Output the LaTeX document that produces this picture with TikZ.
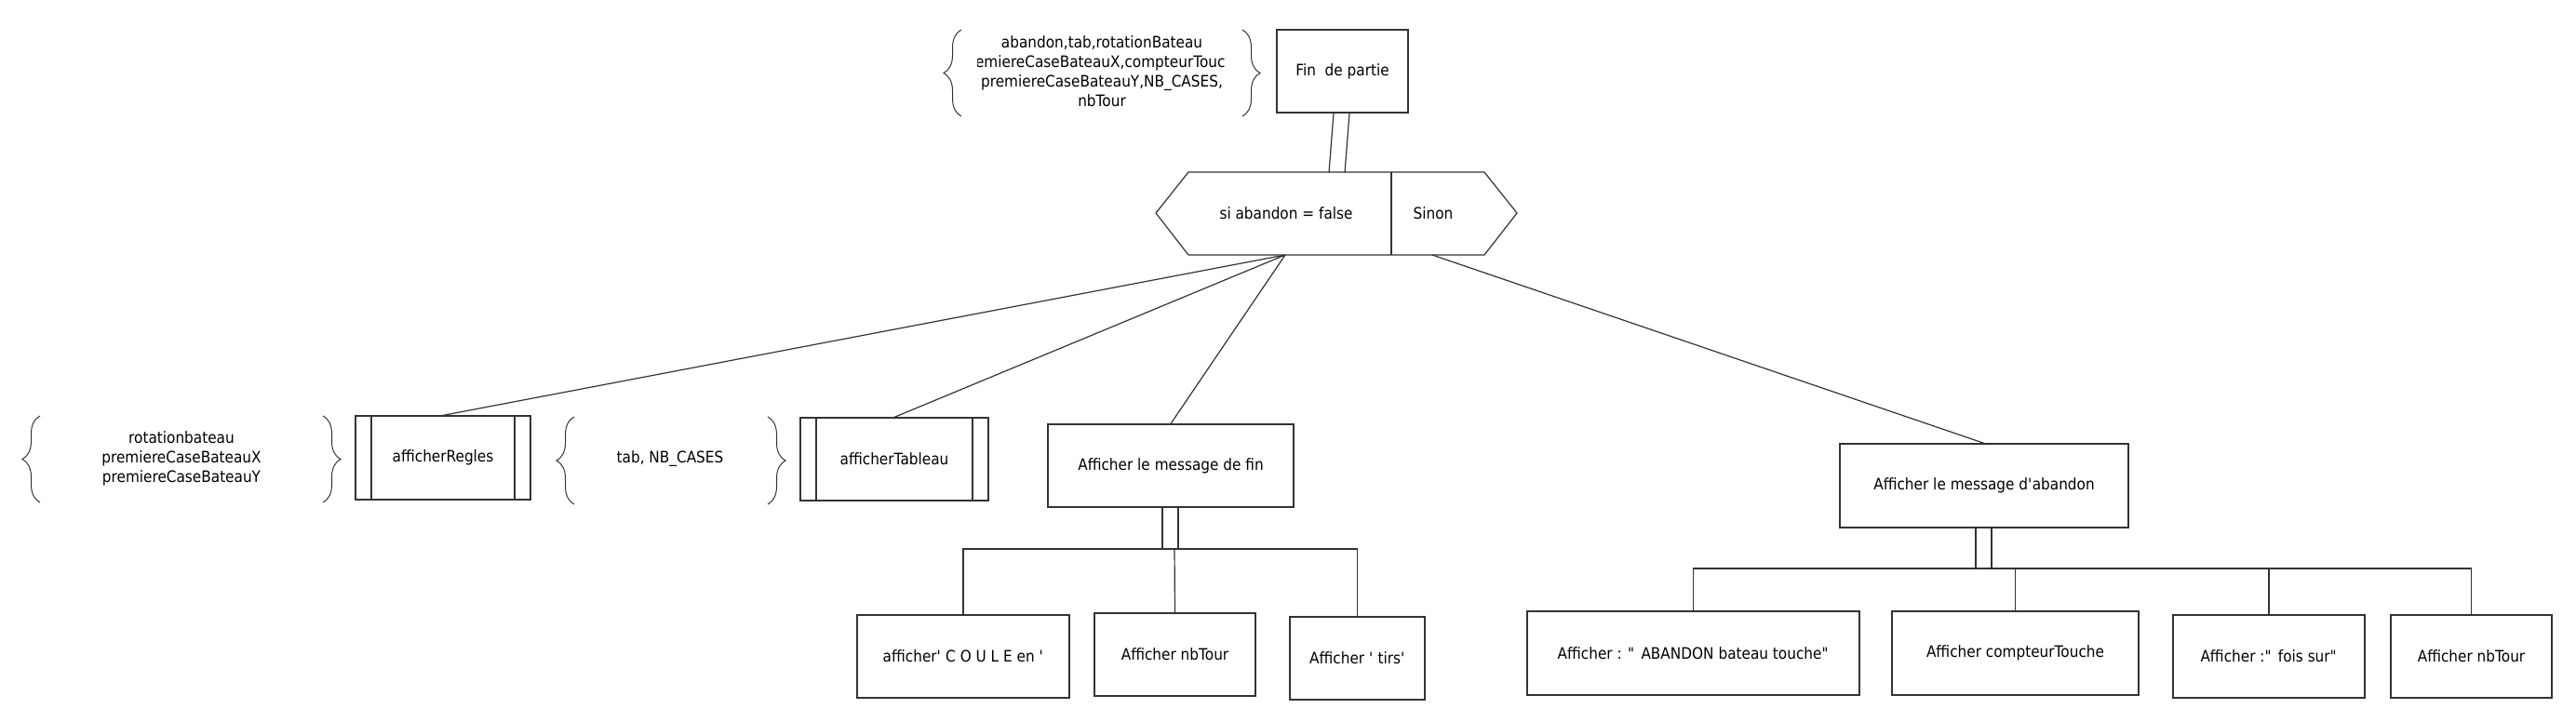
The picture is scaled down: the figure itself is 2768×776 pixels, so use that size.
\documentclass[tikz,border=0pt]{standalone}
\usepackage{fontspec}
\setmainfont{DejaVu Sans}[FakeStretch=0.9]
\usetikzlibrary{calc}
\usetikzlibrary{decorations.pathreplacing}

\begin{document}
\begin{tikzpicture}[x=1pt, y=-1pt, line width=1.2pt, color=black!80,
    every node/.style={text=black, font=\fontsize{17}{21}\selectfont},
    box/.style 2 args={draw, rectangle, inner sep=0pt, minimum width=#1, minimum height=#2},
    procbox/.style 2 args={box={#1}{#2},
      path picture={\draw ([xshift=17pt]path picture bounding box.north west) -- ([xshift=17pt]path picture bounding box.south west)
        ([xshift=-17pt]path picture bounding box.north east) -- ([xshift=-17pt]path picture bounding box.south east);}},
    brc/.style={decorate, decoration={brace, amplitude=19pt}, line width=1pt}]
      \useasboundingbox (0,0) rectangle (2768,776);
      % Fin de partie and its parameters
      \node (fin) [box={141pt}{89pt}] at (1442.5,76.5) {Fin\ \ de partie};
      \begin{scope}
        \clip (1050,28) rectangle (1316,130);
        \node (params) [align=center] at (1184,77) {abandon,tab,rotationBateau\\premiereCaseBateauX,compteurTouche\\premiereCaseBateauY,NB\_CASES,\\nbTour};
      \end{scope}
      \draw[brc] (1033,125) -- (1033,32);
      \draw[brc] (1335,32) -- (1335,125);
      % Condition
      \draw (1242,229) -- (1277,185) -- (1595,185) -- (1630,229) -- (1595,274) -- (1277,274) -- cycle;
      \draw (1495,185) -- (1495,274);
      \node (si) at (1382,229) {si abandon = false};
      \node (sinon) at (1540,229) {Sinon};
      \coordinate (alors) at (1381,274);
      \coordinate (sinonbas) at (1539,274);
      \draw ([xshift=-9.5pt]fin.south) -- ++(-5,64) ([xshift=7.5pt]fin.south) -- ++(-5,64);
      % Branch si
      \node (regles) [procbox={188pt}{90pt}] at (476,492) {afficherRegles};
      \node (tableau) [procbox={202pt}{89pt}] at (961,493.5) {afficherTableau};
      \node (msgfin) [box={264pt}{89pt}] at (1258,500.5) {Afficher le message de fin};
      \node (regparams) [align=center] at (195,493) {rotationbateau\\premiereCaseBateauX\\premiereCaseBateauY};
      \draw[brc] (43,540) -- (43,447);
      \draw[brc] (347,447) -- (347,540);
      \node (tabparams) at (720,493) {tab, NB\_CASES};
      \draw[brc] (617,542) -- (617,448);
      \draw[brc] (825,448) -- (825,542);
      \draw (alors) -- (regles.north) (alors) -- (tableau.north) (alors) -- (msgfin.north);
      % Message de fin
      \node (coule) [box={228pt}{89pt}] at (1035,705.5) {afficher\textquotesingle{} C O U L E en \textquotesingle};
      \node (nbtourfin) [box={173pt}{89pt}] at (1262.5,703.5) {Afficher nbTour};
      \node (tirs) [box={145pt}{89pt}] at (1458.5,707.5) {Afficher \textquotesingle{} tirs\textquotesingle};
      \coordinate (finbar) at (1262,590);
      \draw ([xshift=-9pt]msgfin.south) -- ++(0,45) -- ++(17,0) -- ++(0,-45);
      \draw (coule.north) |- (finbar) -| (tirs.north);
      \draw (finbar) -- (nbtourfin.north);
      % Branch sinon
      \node (msgab) [box={310pt}{90pt}] at (2132,522) {Afficher le message d\textquotesingle abandon};
      \draw (sinonbas) -- (msgab.north);
      \node (abandon) [box={357pt}{90pt}] at (1819.5,702) {Afficher : \textquotedbl{} ABANDON bateau touche\textquotedbl};
      \node (compteur) [box={265pt}{90pt}] at (2165.5,702) {Afficher compteurTouche};
      \node (fois) [box={206pt}{89pt}] at (2438,705.5) {Afficher :\textquotedbl{} fois sur\textquotedbl};
      \node (nbtourab) [box={173pt}{89pt}] at (2655.5,705.5) {Afficher nbTour};
      \coordinate (abbar) at (2131,611);
      \draw ([xshift=-9pt]msgab.south) -- ++(0,44) -- ++(17,0) -- ++(0,-44);
      \draw (abandon.north) |- (abbar) -| (nbtourab.north);
      \draw (compteur.north) -- (compteur.north |- abbar) (fois.north) -- (fois.north |- abbar);
\end{tikzpicture}
\end{document}
